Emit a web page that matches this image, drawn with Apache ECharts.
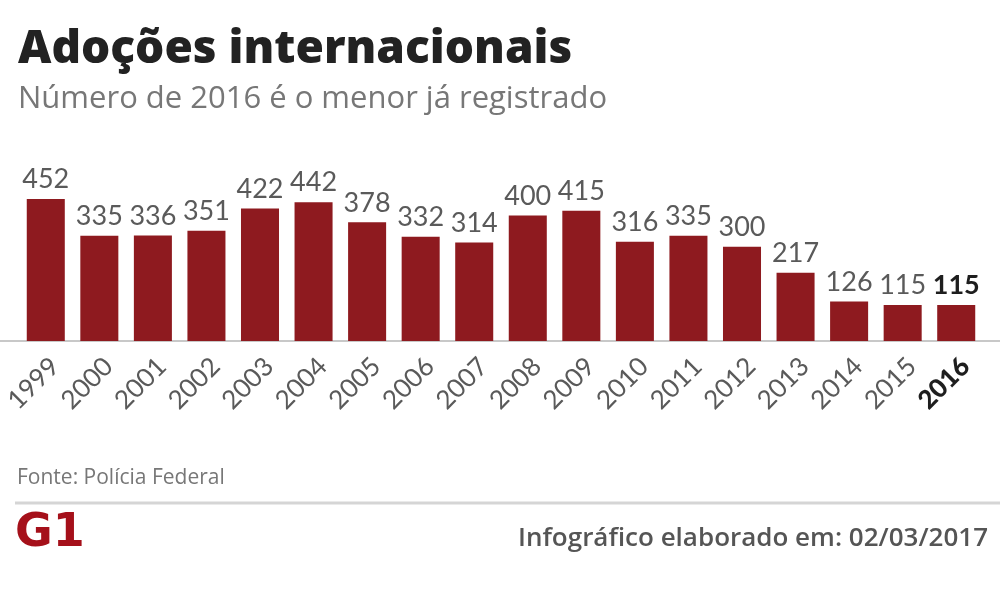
<!DOCTYPE html>
<html>
<head>
<meta charset="UTF-8">
<title>Adoções internacionais</title>
<script src="https://cdn.jsdelivr.net/npm/echarts@6/dist/echarts.min.js"></script>
<style>
  html, body { margin: 0; padding: 0; background: #fff; }
  #chart { width: 1000px; height: 615px; }
</style>
</head>
<body>
<div id="chart"></div>
<script>
// dados
var anos = ['1999', '2000', '2001', '2002', '2003', '2004', '2005', '2006', '2007',
            '2008', '2009', '2010', '2011', '2012', '2013', '2014', '2015', '2016'];
var adocoes = [452, 335, 336, 351, 422, 442, 378, 332, 314,
               400, 415, 316, 335, 300, 217, 126, 115, 115];

var ultimo = anos.length - 1;
var corBarra = '#8e1a1f';

var dados = adocoes.map(function (v, i) {
  if (i === ultimo) {
    return { value: v, label: { fontWeight: 'bold', color: '#1e1e1e' } };
  }
  return v;
});

var chart = echarts.init(document.getElementById('chart'));
chart.setOption({
  backgroundColor: '#fff',
  animation: false,
  title: {
    text: 'Adoções internacionais',
    subtext: 'Número de 2016 é o menor já registrado',
    left: 13,
    top: 22,
    itemGap: 11,
    textStyle: { fontFamily: 'Open Sans', fontWeight: 800, fontSize: 46, color: '#222' },
    subtextStyle: { fontFamily: 'Open Sans', fontSize: 31, color: '#777' }
  },
  grid: { left: 19, right: 17, top: 184, bottom: 274, containLabel: false, outerBoundsMode: 'none' },
  xAxis: {
    type: 'category',
    data: anos,
    axisLine: { show: false },
    axisTick: { show: false },
    axisLabel: {
      rotate: 45,
      margin: 12,
      padding: [26, 0, 0, 0],
      fontFamily: 'Lato',
      fontSize: 26,
      color: '#5a5a5a',
      formatter: function (v, i) { return i === ultimo ? '{b|' + v + '}' : v; },
      rich: { b: { fontFamily: 'Lato', fontSize: 26, fontWeight: 900, color: '#1e1e1e' } }
    }
  },
  yAxis: {
    type: 'value',
    min: 0,
    max: 500,
    show: false,
    splitLine: { show: false }
  },
  series: [{
    type: 'bar',
    data: dados,
    barCategoryGap: '29%',
    itemStyle: { color: corBarra },
    label: {
      show: true,
      position: 'top',
      distance: 6,
      fontFamily: 'Lato',
      fontSize: 27,
      color: '#5a5a5a'
    }
  }],
  graphic: [
    { type: 'line', shape: { x1: 0, y1: 341, x2: 1000, y2: 341 }, style: { stroke: '#c8c8c8', lineWidth: 2 } },
    { type: 'text', left: 17, top: 468, style: { text: 'Fonte: Polícia Federal', fontFamily: 'Open Sans', fontSize: 21, fill: '#777' } },
    { type: 'line', shape: { x1: 15, y1: 503, x2: 1000, y2: 503 }, style: { stroke: '#d5d5d5', lineWidth: 3 } },
    { type: 'text', left: 15, top: 511, style: { text: 'G1', fontFamily: 'DejaVu Sans', fontWeight: 'bold', fontSize: 46, fill: '#a5101a' } },
    { type: 'text', right: 12, top: 526, style: { text: 'Infográfico elaborado em: 02/03/2017', fontFamily: 'Open Sans', fontWeight: 600, fontSize: 26, fill: '#555' } }
  ]
});
</script>
</body>
</html>
